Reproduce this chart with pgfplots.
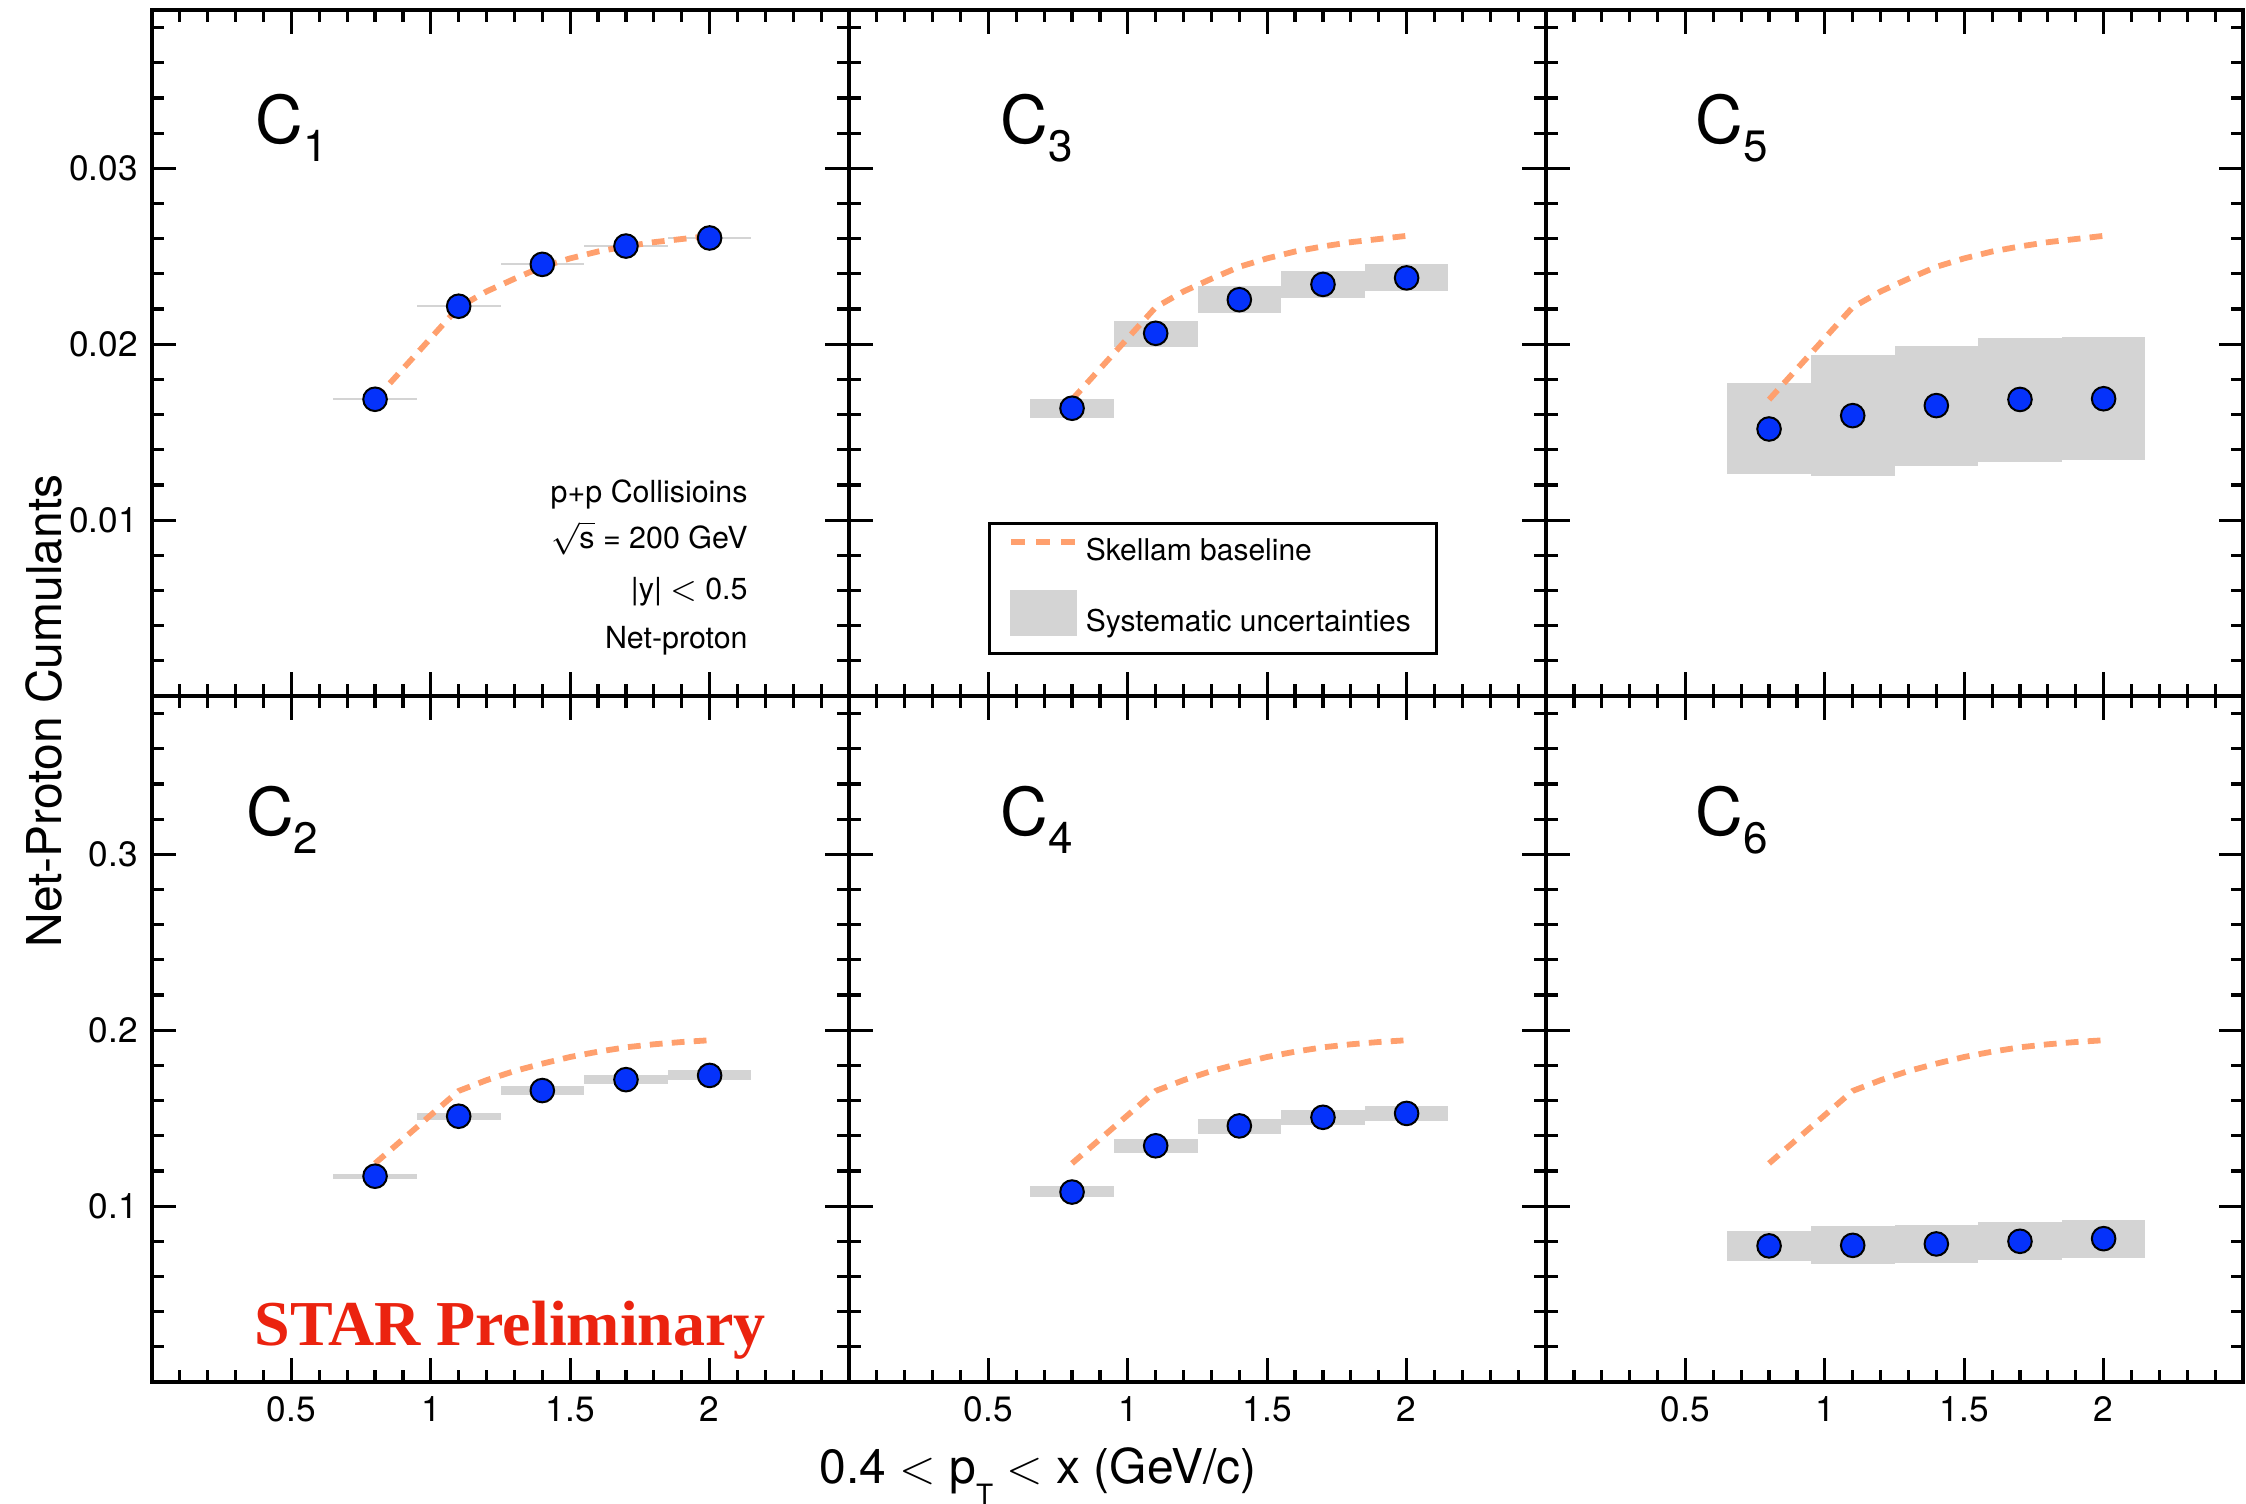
\documentclass[border=0pt]{standalone}
\usepackage{pgfplots}
\pgfplotsset{compat=1.18}
\usepackage{fontspec}
\setmainfont{TeX Gyre Heros}
\newfontfamily\starfont{Liberation Serif}
\definecolor{dotblue}{RGB}{5,50,250}
\definecolor{skellam}{RGB}{255,160,110}
\definecolor{sysgray}{RGB}{212,212,212}
\definecolor{starred}{RGB}{235,35,15}

\newcommand{\sysbox}[4]{\addplot[sysbox] coordinates {(#1,#3) (#2,#3) (#2,#4) (#1,#4)} -- cycle;}
\newcommand{\clab}[1]{C\raisebox{-4.4pt}{\fontsize{11}{11}\selectfont #1}}

\tikzset{clabel/.style={anchor=base west, inner sep=0pt, font=\fontsize{16.5}{18}\selectfont}}

\pgfplotsset{
  panel/.style={
    scale only axis, width=174.25pt, height=171.5pt,
    xmin=0, xmax=2.5, ymin=0,
    xtick={0.5,1,1.5,2},
    minor xtick={0.1,0.2,0.3,0.4,0.6,0.7,0.8,0.9,1.1,1.2,1.3,1.4,1.6,1.7,1.8,1.9,2.1,2.2,2.3,2.4},
    xticklabels={}, yticklabels={},
    tick pos=both,
    axis line style={line width=0.9pt, black},
    tick style={line width=0.8pt, black},
    major tick length=6pt, minor tick length=3pt,
    tick align=inside,
    tick label style={font=\fontsize{8.8}{10}\selectfont},
    /pgf/number format/assume math mode=true,
    anchor=south west,
  },
  toprow/.style={ymax=0.039, ytick={0.01,0.02,0.03},
    minor ytick={0.002,0.004,0.006,0.008,0.012,0.014,0.016,0.018,0.022,0.024,0.026,0.028,0.032,0.034,0.036,0.038}},
  botrow/.style={ymax=0.39, ytick={0.1,0.2,0.3},
    minor ytick={0.02,0.04,0.06,0.08,0.12,0.14,0.16,0.18,0.22,0.24,0.26,0.28,0.32,0.34,0.36,0.38}},
  sysbox/.style={fill=sysgray, draw=none, forget plot},
  base/.style={skellam, line width=1.45pt, dash pattern=on 3.2pt off 2.3pt, forget plot, mark=none},
  pts/.style={only marks, mark=*, mark size=2.95pt, mark options={fill=dotblue, draw=black, line width=0.5pt}, forget plot},
}

% Skellam baselines
\pgfplotstableread{
x y
0.8 0.01685
1.1 0.02210
1.2 0.02300
1.3 0.02372
1.4 0.02440
1.5 0.02488
1.6 0.02527
1.7 0.02556
1.8 0.02580
1.9 0.02598
2.0 0.02616
}\baseodd
\pgfplotstableread{
x y
0.8 0.1243
1.1 0.1655
1.2 0.1716
1.3 0.1768
1.4 0.1810
1.5 0.1848
1.6 0.1878
1.7 0.1903
1.8 0.1920
1.9 0.1933
2.0 0.1943
}\baseeven

\begin{document}
\begin{tikzpicture}
\useasboundingbox (0pt,0pt) rectangle (561.5pt,375.75pt);

% ---------- C1 ----------
\begin{axis}[panel, toprow, at={(38pt,201.75pt)}, yticklabels={0.01,0.02,0.03}]
\sysbox{0.65}{0.95}{0.01682}{0.01692}
\sysbox{0.95}{1.25}{0.02211}{0.02221}
\sysbox{1.25}{1.55}{0.02449}{0.02459}
\sysbox{1.55}{1.85}{0.02553}{0.02563}
\sysbox{1.85}{2.15}{0.02599}{0.02609}
\addplot[base] table {\baseodd};
\addplot[pts] coordinates {(0.8,0.01687) (1.1,0.02216) (1.4,0.02454) (1.7,0.02558) (2.0,0.02604)};
\node[clabel] at (axis cs:0.37,0.0314) {\clab{1}};
\begin{scope}[every node/.style={anchor=base east, inner sep=0pt, font=\fontsize{7.6}{9}\selectfont}]
\node at (axis cs:2.139,0.01099) {p+p Collisioins};
\node at (axis cs:2.139,0.00838) {$\sqrt{\hbox{s}}$ = 200 GeV};
\node at (axis cs:2.139,0.00548) {|y| $<$ 0.5};
\node at (axis cs:2.139,0.00270) {Net-proton};
\end{scope}
\end{axis}

% ---------- C3 ----------
\begin{axis}[panel, toprow, at={(212.25pt,201.75pt)},
  legend cell align=left,
  legend style={at={(0.2,0.2538)}, anchor=north west, draw=black, line width=0.7pt,
    inner xsep=4.6pt, inner ysep=3.9pt, row sep=5.8pt,
    font=\fontsize{7.5}{9}\selectfont,
    nodes={inner xsep=1.8pt, inner ysep=0pt, text height=5.4pt, text depth=1.6pt}}]
\addlegendimage{legend image code/.code={\draw[skellam, line width=1.6pt, dash pattern=on 3.4pt off 2.8pt] (0pt,2.7pt) -- (16pt,2.7pt);}}
\addlegendentry{Skellam baseline}
\addlegendimage{legend image code/.code={\fill[sysgray] (0pt,-2.7pt) rectangle (16pt,8.1pt);}}
\addlegendentry{Systematic uncertainties}
\sysbox{0.65}{0.95}{0.01581}{0.01689}
\sysbox{0.95}{1.25}{0.01986}{0.02132}
\sysbox{1.25}{1.55}{0.02179}{0.02330}
\sysbox{1.55}{1.85}{0.02264}{0.02415}
\sysbox{1.85}{2.15}{0.02304}{0.02455}
\addplot[base] table {\baseodd};
\addplot[pts] coordinates {(0.8,0.01636) (1.1,0.02062) (1.4,0.02253) (1.7,0.02340) (2.0,0.02377)};
\node[clabel] at (axis cs:0.54,0.0314) {\clab{3}};
\end{axis}

% ---------- C5 ----------
\begin{axis}[panel, toprow, at={(386.5pt,201.75pt)}]
\sysbox{0.65}{0.95}{0.01263}{0.01777}
\sysbox{0.95}{1.25}{0.01251}{0.01937}
\sysbox{1.25}{1.55}{0.01309}{0.01989}
\sysbox{1.55}{1.85}{0.01333}{0.02034}
\sysbox{1.85}{2.15}{0.01339}{0.02040}
\addplot[base] table {\baseodd};
\addplot[pts] coordinates {(0.8,0.01518) (1.1,0.01594) (1.4,0.01651) (1.7,0.01686) (2.0,0.01690)};
\node[clabel] at (axis cs:0.535,0.0314) {\clab{5}};
\end{axis}

% ---------- C2 ----------
\begin{axis}[panel, botrow, at={(38pt,30.25pt)}, yticklabels={0.1,0.2,0.3}, xticklabels={0.5,1,1.5,2}]
\sysbox{0.65}{0.95}{0.1155}{0.1183}
\sysbox{0.95}{1.25}{0.1488}{0.1528}
\sysbox{1.25}{1.55}{0.1632}{0.1681}
\sysbox{1.55}{1.85}{0.1694}{0.1743}
\sysbox{1.85}{2.15}{0.1717}{0.1772}
\addplot[base] table {\baseeven};
\addplot[pts] coordinates {(0.8,0.1170) (1.1,0.1511) (1.4,0.1657) (1.7,0.1719) (2.0,0.1743)};
\node[clabel] at (axis cs:0.335,0.3107) {\clab{2}};
\node[anchor=base, inner sep=0pt, text=starred, font=\starfont\bfseries\fontsize{16}{18}\selectfont] at (axis cs:1.285,0.0207) {STAR Preliminary};
\end{axis}

% ---------- C4 ----------
\begin{axis}[panel, botrow, at={(212.25pt,30.25pt)}, xticklabels={0.5,1,1.5,2}]
\sysbox{0.65}{0.95}{0.1054}{0.1112}
\sysbox{0.95}{1.25}{0.1302}{0.1384}
\sysbox{1.25}{1.55}{0.1410}{0.1497}
\sysbox{1.55}{1.85}{0.1460}{0.1546}
\sysbox{1.85}{2.15}{0.1484}{0.1568}
\addplot[base] table {\baseeven};
\addplot[pts] coordinates {(0.8,0.1080) (1.1,0.1343) (1.4,0.1456) (1.7,0.1505) (2.0,0.1527)};
\node[clabel] at (axis cs:0.54,0.3107) {\clab{4}};
\end{axis}

% ---------- C6 ----------
\begin{axis}[panel, botrow, at={(386.5pt,30.25pt)}, xticklabels={0.5,1,1.5,2}]
\sysbox{0.65}{0.95}{0.0687}{0.0858}
\sysbox{0.95}{1.25}{0.0670}{0.0887}
\sysbox{1.25}{1.55}{0.0675}{0.0892}
\sysbox{1.55}{1.85}{0.0692}{0.0911}
\sysbox{1.85}{2.15}{0.0704}{0.0923}
\addplot[base] table {\baseeven};
\addplot[pts] coordinates {(0.8,0.0774) (1.1,0.0777) (1.4,0.0785) (1.7,0.0800) (2.0,0.0815)};
\node[clabel] at (axis cs:0.535,0.3107) {\clab{6}};
\end{axis}

\node[rotate=90, anchor=base, inner sep=0pt, font=\fontsize{12}{14}\selectfont] at (15.25pt,198pt) {Net-Proton Cumulants};
\node[anchor=base, inner sep=0pt, font=\fontsize{12}{14}\selectfont] at (259.5pt,5pt) {0.4 $<$ p\raisebox{-5.4pt}{\fontsize{7}{7}\selectfont T} $<$ x (GeV/c)};
\end{tikzpicture}
\end{document}
